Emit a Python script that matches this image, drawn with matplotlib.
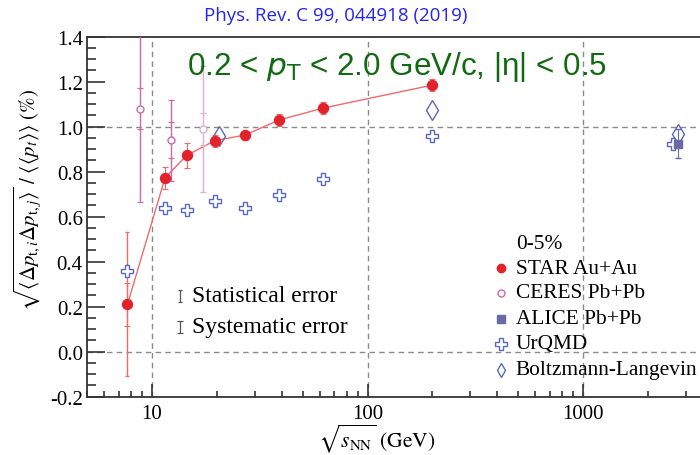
import numpy as np
import matplotlib
matplotlib.use("Agg")
import matplotlib.pyplot as plt
from matplotlib.ticker import LogLocator, MultipleLocator, FormatStrFormatter, NullFormatter

plt.rcParams["font.family"] = "Liberation Serif"
plt.rcParams["mathtext.fontset"] = "stix"
plt.rcParams["axes.unicode_minus"] = False

# STAR Au+Au, 0-5%
star_e = [7.7, 11.5, 14.5, 19.6, 27.0, 39.0, 62.4, 200.0]
star_v = [0.21, 0.772, 0.873, 0.938, 0.963, 1.030, 1.083, 1.185]
star_stat = [0.32, 0.012, 0.012, 0.010, 0.008, 0.008, 0.008, 0.008]
star_sys = [0.095, 0.050, 0.055, 0.027, 0.020, 0.028, 0.025, 0.028]

# CERES Pb+Pb
ceres_e = [8.8, 12.3, 17.3]
ceres_v = [1.08, 0.94, 0.99]
ceres_stat = [0.09, 0.08, 0.07]
ceres_sys = [0.415, 0.18, 0.28]

# ALICE Pb+Pb
alice_e = [2760.0]
alice_v = [0.924]
alice_err = [0.065]

# UrQMD
urqmd_e = [7.7, 11.5, 14.5, 19.6, 27.0, 39.0, 62.4, 200.0, 2620.0]
urqmd_v = [0.36, 0.639, 0.631, 0.670, 0.637, 0.696, 0.766, 0.960, 0.923]
urqmd_err = [0.03, 0, 0, 0, 0, 0, 0, 0, 0]

# Boltzmann-Langevin
bl_e = [20.5, 200.0, 2760.0]
bl_v = [0.957, 1.074, 0.967]

RED = "#e2232b"
RED_LINE = "#f06a6a"
CERES = "#c86aac"
CERES_LIGHT = "#deb2d2"
BLUE = "#5a68bc"
ALICE = "#6a6aa8"
GRID = "#8a8a8a"

W, H = 700, 456
fig = plt.figure(figsize=(7.0, 4.56), dpi=100)

# axes box in pixels: left 87, right 713 (runs past the edge), top 37.7, bottom 397.7
L, R, T, B = 87, 713, 37.7, 397.7
ax = fig.add_axes([L / W, (H - B) / H, (R - L) / W, (B - T) / H])

ax.set_xscale("log")
ax.set_xlim(5, 4000)
ax.set_ylim(-0.2, 1.4)

# reference lines
for yv in (0.0, 1.0):
    ax.axhline(yv, color=GRID, lw=1.0, ls=(0, (4, 3)), zorder=1)
for xv in (10, 100, 1000):
    ax.axvline(xv, color=GRID, lw=1.0, ls=(0, (4, 3)), zorder=1)

# STAR
ax.plot(star_e, star_v, color=RED_LINE, lw=1.0, zorder=3)
ax.errorbar(star_e, star_v, yerr=star_stat, fmt="none", ecolor=RED_LINE,
            elinewidth=1.0, capsize=1.5, zorder=3)
ax.errorbar(star_e, star_v, yerr=star_sys, fmt="none", ecolor=RED_LINE,
            elinewidth=0.8, capsize=2.5, capthick=0.8, zorder=3)
ax.plot(star_e, star_v, "o", color=RED, ms=7.2, zorder=6)

# CERES
for e, v, st, sy in zip(ceres_e, ceres_v, ceres_stat, ceres_sys):
    col = CERES_LIGHT if e > 15 else CERES
    ax.errorbar([e], [v], yerr=[sy], fmt="none", ecolor=col, elinewidth=1.0,
                capsize=2.5, capthick=0.9, zorder=4)
    ax.plot([e, e], [v - st, v + st], "_", color=col, ms=4, mew=0.9, zorder=4)
    ax.plot([e], [v], "o", mfc="white", mec=col, mew=1.0, ms=5, zorder=5)

# UrQMD
ax.errorbar(urqmd_e, urqmd_v, yerr=urqmd_err, fmt="none", ecolor=BLUE,
            elinewidth=0.8, zorder=4)
ax.plot(urqmd_e, urqmd_v, "P", mfc="white", mec=BLUE, mew=1.0, ms=8, zorder=5)

# ALICE
ax.errorbar(alice_e, alice_v, yerr=alice_err, fmt="none", ecolor=ALICE,
            elinewidth=0.8, capsize=2.5, zorder=5)
ax.plot(alice_e, alice_v, "s", color=ALICE, ms=6, zorder=6)

# Boltzmann-Langevin
ax.plot(bl_e, bl_v, "d", mfc="none", mec=BLUE, mew=1.0, ms=10, zorder=5)

# axes styling
for side in ("left", "bottom", "top", "right"):
    ax.spines[side].set_color("#333333")
    ax.spines[side].set_linewidth(1.3)

ax.yaxis.set_major_locator(MultipleLocator(0.2))
ax.yaxis.set_minor_locator(MultipleLocator(0.05))
ax.yaxis.set_major_formatter(FormatStrFormatter("%.1f"))
ax.xaxis.set_major_locator(LogLocator(base=10, numticks=10))
ax.xaxis.set_minor_locator(LogLocator(base=10, subs=np.arange(2, 10), numticks=20))
ax.xaxis.set_minor_formatter(NullFormatter())
ax.xaxis.set_major_formatter(FormatStrFormatter("%d"))

ax.tick_params(axis="y", which="major", direction="in", length=13, width=1.2,
               color="#333333", labelsize=15, pad=3)
ax.tick_params(axis="y", which="minor", direction="in", length=6.5, width=1.2,
               color="#333333")
ax.tick_params(axis="x", which="major", direction="in", length=9.5, width=1.2,
               color="#333333", labelsize=15, pad=5)
ax.tick_params(axis="x", which="minor", direction="in", length=4.5, width=1.2,
               color="#333333")

ax.set_ylabel(r"$\sqrt{\left\langle \Delta p_{\mathrm{t},i}\Delta p_{\mathrm{t},j} \right\rangle}\ /\ "
              r"\left\langle\left\langle p_t \right\rangle\right\rangle\ (\%)$",
              fontsize=15, va="center")
ax.yaxis.set_label_coords((27 - L) / (R - L), (B - 200) / (B - T))
ax.set_xlabel(r"$\sqrt{s_{\mathrm{NN}}}\ \left(\mathrm{GeV}\right)$", fontsize=15.5,
              va="center")
ax.xaxis.set_label_coords((377 - L) / (R - L), (B - 439) / (B - T))


def axfrac(px, py):
    return (px - L) / (R - L), (B - py) / (B - T)


# kinematic cuts
ax.text(*axfrac(187, 67), r"0.2 < $p_{\mathrm{T}}$ < 2.0 GeV/c, |η| < 0.5",
        color="#116a11", fontsize=22.6, family="Liberation Sans",
        math_fontfamily="dejavusans", ha="left", va="center",
        transform=ax.transAxes, zorder=7)

# error-type key
for py, cap, txt in ((297, 1.5, "Statistical error"), (328, 2.5, "Systematic error")):
    x0, y0 = axfrac(180, py)
    dy = 6 / (B - T)
    ax.errorbar([x0], [y0], yerr=[dy], fmt="none", ecolor="#555555",
                elinewidth=0.9, capsize=cap, capthick=0.9,
                transform=ax.transAxes)
    ax.text(*axfrac(191.7, py), txt, fontsize=17, ha="left", va="center",
            transform=ax.transAxes)

# legend
ax.text(*axfrac(515.7, 245), "0-5%", fontsize=15.4, ha="left", va="center",
        transform=ax.transAxes)
legend_rows = [
    (269, "STAR Au+Au", dict(marker="o", color=RED, ms=6)),
    (294, "CERES Pb+Pb", dict(marker="o", mfc="white", mec=CERES, mew=1.0, ms=5)),
    (320, "ALICE Pb+Pb", dict(marker="s", color=ALICE, ms=6)),
    (345, "UrQMD", dict(marker="P", mfc="white", mec=BLUE, mew=1.0, ms=8)),
    (371, "Boltzmann-Langevin", dict(marker="d", mfc="none", mec=BLUE, mew=1.0, ms=7)),
]
for py, label, style in legend_rows:
    mx, my = axfrac(500.7, py)
    ax.plot([mx], [my], ls="none", transform=ax.transAxes, clip_on=False, **style)
    ax.text(*axfrac(515.7, py), label, fontsize=15.4, ha="left", va="center",
            transform=ax.transAxes)

fig.text(336 / W, 1 - 16 / H, "Phys. Rev. C 99, 044918 (2019)", color="#2424f0",
         fontsize=13.5, family="Open Sans", ha="center", va="center")

fig.savefig("out.png", dpi=100)
